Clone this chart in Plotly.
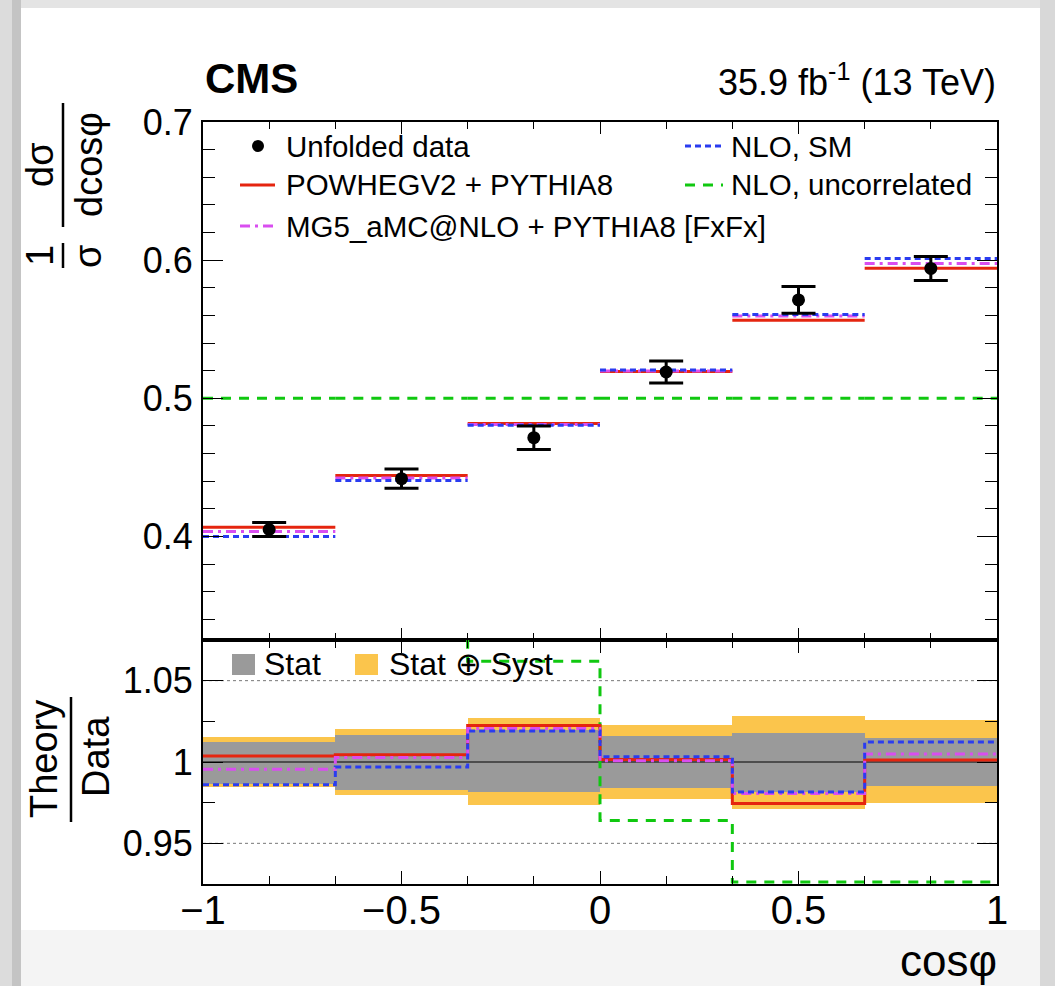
import plotly.graph_objects as go
import numpy as np

# ---------------- data ----------------
bin_edges = [-1, -2/3, -1/3, 0, 1/3, 2/3, 1]
bin_centers = [-5/6, -0.5, -1/6, 1/6, 0.5, 5/6]

data_vals = [0.405, 0.4418, 0.4715, 0.519, 0.5712, 0.594]
data_err = [0.005, 0.007, 0.0085, 0.008, 0.0097, 0.0087]

powheg_vals = [0.4067, 0.4440, 0.4817, 0.5193, 0.5565, 0.5942]
mg5_vals = [0.4036, 0.4423, 0.4810, 0.5198, 0.5596, 0.5976]
nlo_sm_vals = [0.4000, 0.4404, 0.4804, 0.5205, 0.5606, 0.6012]
nlo_uncorr_vals = [0.5, 0.5, 0.5, 0.5, 0.5, 0.5]

ratio_powheg = [1.0037, 1.0045, 1.0224, 1.0016, 0.9745, 1.0012]
ratio_mg5 = [0.9955, 1.0027, 1.0206, 1.0008, 0.9807, 1.0049]
ratio_nlo_sm = [0.9860, 0.9969, 1.0191, 1.0033, 0.9815, 1.0123]
ratio_nlo_uncorr = [1.234, 1.131, 1.062, 0.964, 0.875, 0.842]

stat_lo = [0.9864, 0.9830, 0.9817, 0.9840, 0.9817, 0.9852]
stat_hi = [1.0125, 1.0167, 1.0198, 1.0160, 1.0177, 1.0146]
tot_lo = [0.9848, 0.9800, 0.9735, 0.9774, 0.9714, 0.9745]
tot_hi = [1.0156, 1.0204, 1.0270, 1.0226, 1.0284, 1.0259]

x_tickvals = [-1, -0.5, 0, 0.5, 1]
x_ticktext = ["\u22121", "\u22120.5", "0", "0.5", "1"]
y_tickvals = [0.4, 0.5, 0.6, 0.7]
y_ticktext = ["0.4", "0.5", "0.6", "0.7"]
r_tickvals = [0.95, 1.0, 1.05]
r_ticktext = ["0.95", "1", "1.05"]

# ---------------- style ----------------
FONT = "Liberation Sans, Arial, Helvetica, sans-serif"
RED = "#e5250f"
BLUE = "#2a3cf0"
MAG = "#d94ef0"
GREEN = "#10c810"
GRAY = "#9a9a9a"
YELLOW = "#fbc54c"

W, H = 1055, 986
L, R, T, B = 203, 58, 122, 102
SPLIT = 640  # pixel y of boundary between panels
plot_h = H - T - B
ratio_frac = (H - B - SPLIT) / plot_h

Y_RANGE = [0.325, 0.7]
R_RANGE = [0.925, 1.075]


def px(x):
    return (x - L) / (W - L - R)


def py(y):
    return (H - B - y) / plot_h


def segments(vals):
    xs, ys = [], []
    for i, v in enumerate(vals):
        xs += [bin_edges[i], bin_edges[i + 1], None]
        ys += [v, v, None]
    return xs, ys


def steps(vals):
    return list(bin_edges), list(vals) + [vals[-1]]


fig = go.Figure()

# ---- top panel ----
for vals, col, dash in [
    (nlo_uncorr_vals, GREEN, "10px,8px"),
    (powheg_vals, RED, "solid"),
    (mg5_vals, MAG, "10px,5px,3px,5px"),
    (nlo_sm_vals, BLUE, "6px,4px"),
]:
    xs, ys = segments(vals)
    fig.add_trace(go.Scatter(x=xs, y=ys, mode="lines", xaxis="x", yaxis="y",
                             line=dict(color=col, width=3, dash=dash),
                             showlegend=False, hoverinfo="skip"))

fig.add_trace(go.Scatter(
    x=bin_centers, y=data_vals, mode="markers", xaxis="x", yaxis="y",
    marker=dict(color="black", size=13),
    error_y=dict(type="data", array=data_err, color="black", thickness=3, width=17),
    showlegend=False))

# ---- ratio panel ----
fig.add_trace(go.Bar(x=bin_centers, base=tot_lo,
                     y=[h - l for h, l in zip(tot_hi, tot_lo)],
                     width=1/3, xaxis="x2", yaxis="y2",
                     marker=dict(color=YELLOW, line=dict(width=0)),
                     showlegend=False, hoverinfo="skip"))
fig.add_trace(go.Bar(x=bin_centers, base=stat_lo,
                     y=[h - l for h, l in zip(stat_hi, stat_lo)],
                     width=1/3, xaxis="x2", yaxis="y2",
                     marker=dict(color=GRAY, line=dict(width=0)),
                     showlegend=False, hoverinfo="skip"))

for yv, col, w, dash in [(1.05, "#777777", 1, "dot"), (0.95, "#777777", 1, "dot"), (1.0, "black", 1.2, "solid")]:
    fig.add_trace(go.Scatter(x=[-1, 1], y=[yv, yv], mode="lines", xaxis="x2", yaxis="y2",
                             line=dict(color=col, width=w, dash=dash),
                             showlegend=False, hoverinfo="skip"))

green_disp = list(np.clip(ratio_nlo_uncorr, R_RANGE[0] + 0.0012, None))
for vals, col, dash in [
    (green_disp, GREEN, "10px,8px"),
    (ratio_powheg, RED, "solid"),
    (ratio_mg5, MAG, "10px,5px,3px,5px"),
    (ratio_nlo_sm, BLUE, "6px,4px"),
]:
    xs, ys = steps(vals)
    fig.add_trace(go.Scatter(x=xs, y=ys, mode="lines", xaxis="x2", yaxis="y2",
                             line=dict(color=col, width=3, dash=dash, shape="hv"),
                             showlegend=False, hoverinfo="skip"))

axis_common = dict(showline=True, linecolor="black", linewidth=1.8, mirror="allticks",
                   ticks="inside", tickcolor="black", showgrid=False, zeroline=False,
                   tickfont=dict(family=FONT, size=36, color="black"))

fig.update_layout(
    width=W, height=H, autosize=False,
    margin=dict(l=L, r=R, t=T, b=B, pad=0),
    paper_bgcolor="#f4f4f4", plot_bgcolor="white",
    barmode="overlay", bargap=0,
    font=dict(family=FONT, color="black"),
    showlegend=False,
    xaxis=dict(domain=[0, 1], range=[-1, 1], anchor="y", showticklabels=False,
               tickvals=x_tickvals, ticklen=12,
               minor=dict(dtick=1/6, tick0=-1, ticklen=7, ticks="inside", tickcolor="black"),
               **axis_common),
    yaxis=dict(domain=[ratio_frac, 1], range=Y_RANGE, anchor="x",
               tickvals=y_tickvals, ticktext=y_ticktext, ticklen=20, ticklabelstandoff=1,
               minor=dict(dtick=0.02, tick0=0.3, ticklen=12, ticks="inside", tickcolor="black"),
               **axis_common),
    xaxis2=dict(domain=[0, 1], range=[-1, 1], anchor="y2",
                tickvals=x_tickvals, ticktext=x_ticktext, ticklen=13, ticklabelstandoff=-10,
                minor=dict(dtick=1/6, tick0=-1, ticklen=8, ticks="inside", tickcolor="black"),
                **{**axis_common, "tickfont": dict(family=FONT, size=40, color="black")}),
    yaxis2=dict(domain=[0, ratio_frac], range=R_RANGE, anchor="x2",
                tickvals=r_tickvals, ticktext=r_ticktext, ticklen=20, ticklabelstandoff=1,
                minor=dict(dtick=0.025, tick0=0.9, ticklen=12, ticks="inside", tickcolor="black"),
                **axis_common),
)

shapes = []
# background card and grey frame
shapes.append(dict(type="rect", xref="paper", yref="paper", layer="below",
                   x0=px(21), x1=px(1040), y0=py(930), y1=py(8),
                   fillcolor="white", line=dict(width=0)))
shapes.append(dict(type="rect", xref="paper", yref="paper", layer="below",
                   x0=px(0), x1=px(12), y0=py(986), y1=py(0),
                   fillcolor="#dcdcdc", line=dict(width=0)))
shapes.append(dict(type="rect", xref="paper", yref="paper", layer="below",
                   x0=px(12), x1=px(21), y0=py(986), y1=py(0),
                   fillcolor="#c4c4c4", line=dict(width=0)))
shapes.append(dict(type="rect", xref="paper", yref="paper", layer="below",
                   x0=px(1040), x1=px(1055), y0=py(986), y1=py(0),
                   fillcolor="#d8d8d8", line=dict(width=0)))
shapes.append(dict(type="rect", xref="paper", yref="paper", layer="below",
                   x0=px(21), x1=px(1040), y0=py(8), y1=py(0),
                   fillcolor="#e4e4e4", line=dict(width=0)))

# legend samples (top panel)
shapes.append(dict(type="circle", xref="paper", yref="paper",
                   x0=px(252), x1=px(264), y0=py(152), y1=py(140),
                   fillcolor="black", line=dict(width=0)))
for (x0, x1, yy, col, dash) in [
    (240, 275, 185, RED, "solid"),
    (240, 275, 226, MAG, "10px,5px,3px,5px"),
    (685, 723, 146, BLUE, "6px,4px"),
    (685, 723, 185, GREEN, "10px,8px"),
]:
    shapes.append(dict(type="line", xref="paper", yref="paper",
                       x0=px(x0), x1=px(x1), y0=py(yy), y1=py(yy),
                       line=dict(color=col, width=3, dash=dash)))
# ratio legend boxes
shapes.append(dict(type="rect", xref="paper", yref="paper",
                   x0=px(232), x1=px(255), y0=py(675), y1=py(654),
                   fillcolor=GRAY, line=dict(width=0)))
shapes.append(dict(type="rect", xref="paper", yref="paper",
                   x0=px(355), x1=px(378), y0=py(675), y1=py(654),
                   fillcolor=YELLOW, line=dict(width=0)))
# fraction bars of the axis titles
shapes.append(dict(type="line", xref="paper", yref="paper",
                   x0=px(63), x1=px(63), y0=py(243), y1=py(268),
                   line=dict(color="black", width=2.5)))
shapes.append(dict(type="line", xref="paper", yref="paper",
                   x0=px(63), x1=px(63), y0=py(103), y1=py(227),
                   line=dict(color="black", width=2.5)))
shapes.append(dict(type="line", xref="paper", yref="paper",
                   x0=px(71), x1=px(71), y0=py(697), y1=py(822),
                   line=dict(color="black", width=2.5)))
fig.update_layout(shapes=shapes)

ann = []


def add_text(text, x, y, size, xanchor="left", yanchor="middle", angle=0, bold=False):
    ann.append(dict(text=("<b>%s</b>" % text) if bold else text,
                    x=px(x), y=py(y), xref="paper", yref="paper",
                    xanchor=xanchor, yanchor=yanchor, textangle=angle,
                    showarrow=False, font=dict(family=FONT, size=size, color="black")))


add_text("CMS", 203, 79, 42, bold=True)
add_text("35.9 fb<sup>-1</sup> (13 TeV)", 998, 80, 36, xanchor="right")
add_text("Unfolded data", 284, 146, 29.5)
add_text("POWHEGV2 + PYTHIA8", 284, 185, 29.5)
add_text("MG5_aMC@NLO + PYTHIA8 [FxFx]", 284, 226, 29.5)
add_text("NLO, SM", 729, 146, 29.5)
add_text("NLO, uncorrelated", 729, 185, 29.5)
add_text("Stat", 262, 664, 32)
add_text("Stat \u2295 Syst", 387, 664, 32)
add_text("cos\u03c6", 999, 960, 44, xanchor="right")
# y axis titles (rotated fractions)
add_text("1", 40, 256, 38, xanchor="center", angle=-90)
add_text("\u03c3", 88, 256, 38, xanchor="center", angle=-90)
add_text("d\u03c3", 40, 165, 38, xanchor="center", angle=-90)
add_text("dcos\u03c6", 89, 165, 38, xanchor="center", angle=-90)
add_text("Theory", 44, 759, 38, xanchor="center", angle=-90)
add_text("Data", 96, 757, 38, xanchor="center", angle=-90)
fig.update_layout(annotations=ann)

fig.write_html("out.html", config={"displayModeBar": False},
               post_script="document.body.style.margin='0';document.body.style.overflow='hidden';")
